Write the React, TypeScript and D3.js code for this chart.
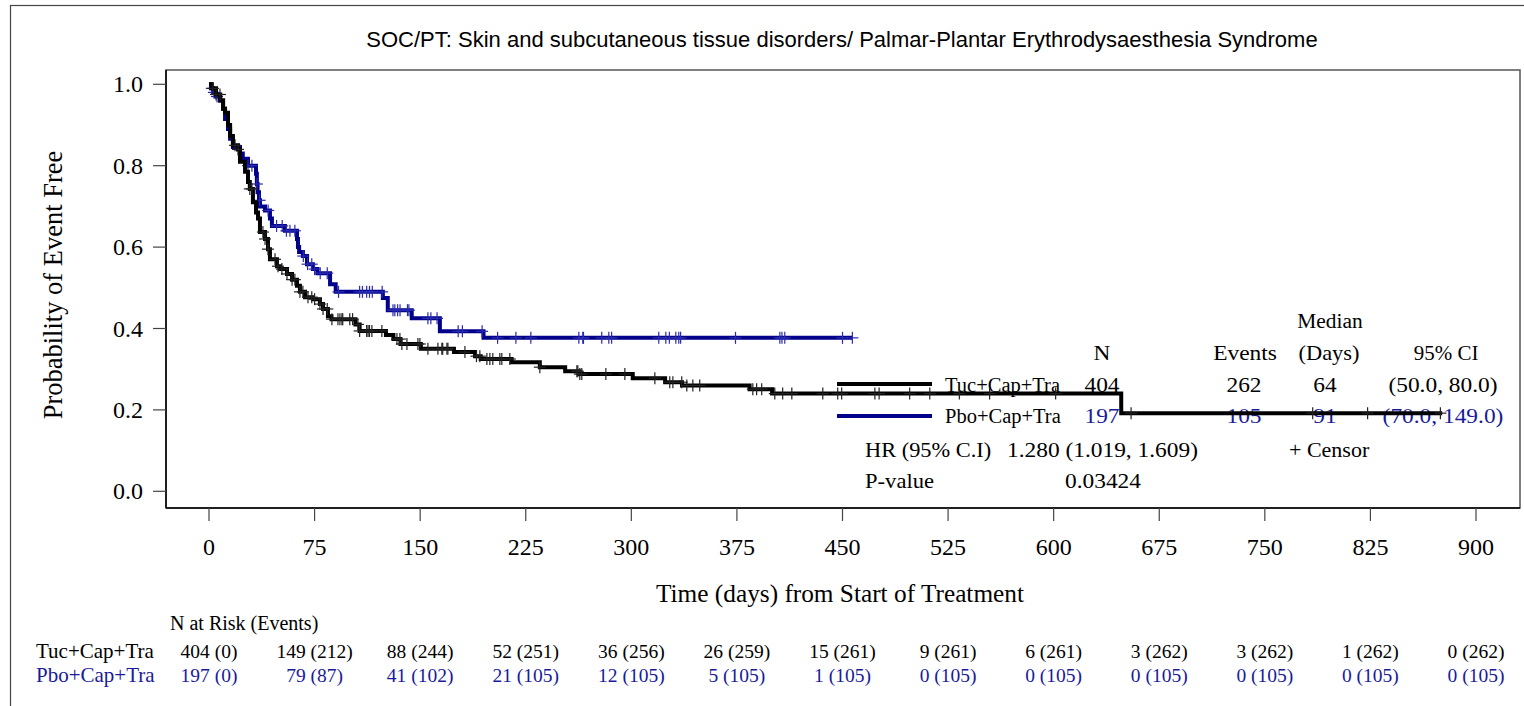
import React from "react";
import * as d3 from "d3";

const W = 1524;
const H = 706;

const titleText =
  "SOC/PT: Skin and subcutaneous tissue disorders/ Palmar-Plantar Erythrodysaesthesia Syndrome";
const xTicks = [0, 75, 150, 225, 300, 375, 450, 525, 600, 675, 750, 825, 900];
const yTicks = [0, 0.2, 0.4, 0.6, 0.8, 1.0];

const armNames = ["Tuc+Cap+Tra", "Pbo+Cap+Tra"];
const riskTuc = ["404 (0)", "149 (212)", "88 (244)", "52 (251)", "36 (256)", "26 (259)", "15 (261)", "9 (261)", "6 (261)", "3 (262)", "3 (262)", "1 (262)", "0 (262)"];
const riskPbo = ["197 (0)", "79 (87)", "41 (102)", "21 (105)", "12 (105)", "5 (105)", "1 (105)", "0 (105)", "0 (105)", "0 (105)", "0 (105)", "0 (105)", "0 (105)"];

const statN = ["404", "197"];
const statEvents = ["262", "105"];
const statMedian = ["64", "91"];
const statCI = ["(50.0, 80.0)", "(70.0, 149.0)"];
const hrText = "1.280 (1.019, 1.609)";
const pText = "0.03424";

// Kaplan-Meier steps: [time, survival]
const tucSteps: [number, number][] = [
  [0, 1.0], [2, 0.99], [5, 0.975], [8, 0.96], [10, 0.94], [11.4, 0.93], [13.5, 0.9], [15, 0.873], [17, 0.85],
  [20.6, 0.84], [22, 0.81], [25.6, 0.785], [27.7, 0.76], [29, 0.743], [31.2, 0.71], [33.4, 0.685], [34.8, 0.67],
  [36.2, 0.637], [39.8, 0.62], [41.9, 0.595], [43.3, 0.57], [48.3, 0.553], [50.4, 0.546], [55.4, 0.534], [59, 0.52],
  [62.5, 0.505], [64.6, 0.49], [68.2, 0.477], [73.8, 0.472], [78.8, 0.46], [81, 0.448], [84.5, 0.43], [87, 0.423],
  [104, 0.41], [107, 0.394], [125.7, 0.384], [131, 0.374], [136, 0.362], [150.5, 0.35], [174, 0.342], [189, 0.332],
  [193, 0.325], [215, 0.317], [235, 0.305], [253, 0.295], [263, 0.288], [301, 0.278], [324, 0.268], [336, 0.26],
  [384, 0.251], [400, 0.24], [648, 0.192],
];
const tucEnd = 876;
const tucCensor = [
  2.8, 5, 7.8, 18.5, 20.6, 29, 30.5, 38.3, 39.8, 41.9, 46.9, 49, 51.8, 55.4, 59, 61, 64.6, 66.7, 70.3, 73, 75, 78.8,
  81, 84, 87.3, 91.6, 93, 94.4, 95, 100, 102, 105.8, 107, 112, 113, 114, 115.7, 122.8, 133.5, 135.6, 137, 140.6,
  148.4, 149.8, 155.5, 162.6, 165.4, 166, 169, 169.7, 181.8, 190, 192.4, 197.4, 199.5, 201.6, 206.6, 208, 213.7,
  235, 261.3, 262, 263.4, 264.8, 281.9, 295.4, 316.7, 327.3, 329.5, 335.8, 339.4, 343.7, 348.6, 386.3, 389, 392.6,
  401.9, 407.5, 414, 436, 446.6, 449.4, 473, 476, 497.7, 512, 533, 554.5, 601.4, 655, 784, 823, 874.7,
];

const pboSteps: [number, number][] = [
  [0, 1.0], [1.4, 0.99], [2.8, 0.98], [5, 0.97], [7.8, 0.96], [10, 0.94], [11.4, 0.915], [13.5, 0.89], [15, 0.866],
  [17, 0.846], [22, 0.83], [24, 0.817], [27.7, 0.8], [33.4, 0.78], [34, 0.755], [34.5, 0.735], [35.5, 0.715],
  [36.2, 0.7], [39.8, 0.69], [43.3, 0.67], [44.7, 0.652], [54, 0.64], [62.5, 0.62], [63.2, 0.6], [64, 0.588],
  [66.7, 0.578], [69.6, 0.558], [73.8, 0.546], [77, 0.536], [86, 0.509], [90, 0.49], [123.5, 0.475], [127, 0.445],
  [144, 0.425], [164, 0.393], [195, 0.377],
];
const pboEnd = 457;
const pboCensor = [
  2, 3.5, 5.7, 27.7, 30.5, 34, 36, 42, 48, 52, 55, 57.5, 61, 67, 70, 73, 75, 79, 84, 92, 107, 109, 112, 114, 116,
  123, 130.7, 132, 134, 135.7, 141, 142, 155.5, 157.6, 162, 177, 180, 194, 205, 218, 228.6, 262.7, 265.5, 266, 279,
  284, 286, 319.5, 324.5, 327, 331.6, 333.7, 335, 374, 405.5, 407, 409, 450, 457,
];

const BLACK = "#000000";
const BLUE = "#00008b";
const BLUE_TEXT = "#1a1a9a";
const SERIF = "'Liberation Serif', 'Times New Roman', serif";
const SANS = "'Liberation Sans', Arial, sans-serif";

type TP = {
  x: number; y: number; size: number; sx?: number; anchor?: "start" | "middle" | "end";
  fill?: string; family?: string; rotate?: number; children: React.ReactNode;
};
function T({ x, y, size, sx = 1, anchor = "start", fill = "#000", family = SERIF, rotate, children }: TP) {
  const tr = `translate(${x},${y})${rotate ? ` rotate(${rotate})` : ""} scale(${sx},1)`;
  return (
    <text transform={tr} textAnchor={anchor} fontSize={size} fontFamily={family} fill={fill}>
      {children}
    </text>
  );
}

function survAt(steps: [number, number][], t: number) {
  let s = steps[0][1];
  for (const [ti, si] of steps) {
    if (ti <= t) s = si;
    else break;
  }
  return s;
}

export default function App() {
  const left = 166, right = 1520, top = 70, bottom = 508;
  const x = d3.scaleLinear().domain([0, 900]).range([209, 1476]);
  const y = d3.scaleLinear().domain([0, 1]).range([491.3, 84.3]);
  const line = d3
    .line<[number, number]>()
    .x((d) => x(d[0]))
    .y((d) => y(d[1]))
    .curve(d3.curveStepAfter);

  const tucPts: [number, number][] = [...tucSteps, [tucEnd, tucSteps[tucSteps.length - 1][1]]];
  const pboPts: [number, number][] = [...pboSteps, [pboEnd, pboSteps[pboSteps.length - 1][1]]];

  const censorMarks = (steps: [number, number][], times: number[], color: string) =>
    times.map((t, i) => {
      const cx = x(t);
      const cy = y(survAt(steps, t));
      return (
        <g key={i} stroke={color} strokeWidth={1.2}>
          <line x1={cx} x2={cx} y1={cy - 6} y2={cy + 6} />
          <line x1={cx - 6} x2={cx + 6} y1={cy} y2={cy} />
        </g>
      );
    });

  const lgSize = 20;
  const lgSx = 1.17;
  const rows = [392, 423];

  return (
    <svg width={W} height={H} style={{ position: "absolute", left: 0, top: 0, background: "#fff" }}>
      <rect x={0} y={0} width={W} height={H} fill="#fff" />
      {/* outer border */}
      <rect x={10.5} y={5.5} width={1600} height={800} fill="none" stroke="#444" strokeWidth={1.2} />
      {/* title */}
      <T x={842} y={47} size={22} anchor="middle" family={SANS}>{titleText}</T>

      {/* plot frame */}
      <rect x={left} y={top} width={right - left} height={bottom - top} fill="none" stroke="#555" strokeWidth={1.5} />
      <line x1={left} x2={left} y1={top} y2={bottom} stroke="#000" strokeWidth={1.5} />
      <line x1={left} x2={right} y1={bottom} y2={bottom} stroke="#000" strokeWidth={1.5} />

      {/* y axis */}
      {yTicks.map((v) => (
        <g key={v}>
          <line x1={153} x2={left} y1={y(v)} y2={y(v)} stroke="#444" strokeWidth={1.2} />
          <T x={143} y={y(v) + 8} size={24} anchor="end">{v.toFixed(1)}</T>
        </g>
      ))}
      <T x={62} y={285} size={26.5} anchor="middle" rotate={-90}>Probability of Event Free</T>

      {/* x axis */}
      {xTicks.map((v) => (
        <g key={v}>
          <line x1={x(v)} x2={x(v)} y1={bottom} y2={521} stroke="#444" strokeWidth={1.2} />
          <T x={x(v)} y={555} size={24} anchor="middle">{v}</T>
        </g>
      ))}
      <T x={840} y={602} size={25.3} anchor="middle">Time (days) from Start of Treatment</T>

      {/* risk table */}
      <T x={170} y={630} size={20}>N at Risk (Events)</T>
      <T x={36} y={658} size={21}>{armNames[0]}</T>
      <T x={36} y={682} size={21} fill={BLUE_TEXT}>{armNames[1]}</T>
      {xTicks.map((v, i) => (
        <g key={"r" + v}>
          <T x={x(v)} y={658} size={19.5} anchor="middle">{riskTuc[i]}</T>
          <T x={x(v)} y={682} size={19.5} anchor="middle" fill={BLUE_TEXT}>{riskPbo[i]}</T>
        </g>
      ))}

      {/* legend / statistics */}
      <T x={1330} y={328} size={lgSize} sx={1.07} anchor="middle">Median</T>
      <T x={1102} y={360} size={lgSize} sx={lgSx} anchor="middle">N</T>
      <T x={1245} y={360} size={lgSize} sx={lgSx} anchor="middle">Events</T>
      <T x={1329} y={360} size={lgSize} sx={1.12} anchor="middle">(Days)</T>
      <T x={1446} y={360} size={lgSize} sx={1.05} anchor="middle">95% CI</T>
      <line x1={837} x2={932} y1={384} y2={384} stroke={BLACK} strokeWidth={4} />
      <line x1={837} x2={932} y1={416} y2={416} stroke={BLUE} strokeWidth={4} />
      {[0, 1].map((i) => (
        <g key={"lg" + i}>
          <T x={945} y={rows[i]} size={20.5}>{armNames[i]}</T>
          <T x={1102} y={rows[i]} size={lgSize} sx={lgSx} anchor="middle" fill={i ? BLUE_TEXT : "#000"}>{statN[i]}</T>
          <T x={1244} y={rows[i]} size={lgSize} sx={lgSx} anchor="middle" fill={i ? BLUE_TEXT : "#000"}>{statEvents[i]}</T>
          <T x={1325} y={rows[i]} size={lgSize} sx={lgSx} anchor="middle" fill={i ? BLUE_TEXT : "#000"}>{statMedian[i]}</T>
          <T x={1443} y={rows[i]} size={lgSize} sx={lgSx} anchor="middle" fill={i ? BLUE_TEXT : "#000"}>{statCI[i]}</T>
        </g>
      ))}
      <T x={865} y={457} size={lgSize} sx={1.12}>HR (95% C.I)</T>
      <T x={1007} y={457} size={lgSize} sx={lgSx}>{hrText}</T>
      <T x={1289} y={457} size={lgSize} sx={1.1}>+ Censor</T>
      <T x={865} y={488} size={lgSize} sx={1.13}>P-value</T>
      <T x={1065} y={488} size={lgSize} sx={lgSx}>{pText}</T>

      {/* curves */}
      <path d={line(pboPts) || ""} fill="none" stroke={BLUE} strokeWidth={4} />
      {censorMarks(pboSteps, pboCensor, "#2a2ab0")}
      <path d={line(tucPts) || ""} fill="none" stroke={BLACK} strokeWidth={4} />
      {censorMarks(tucSteps, tucCensor, "#222")}
    </svg>
  );
}
